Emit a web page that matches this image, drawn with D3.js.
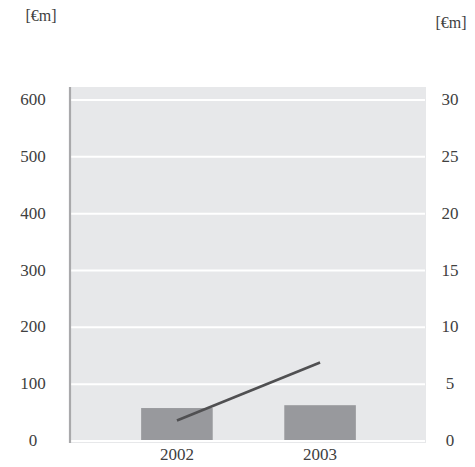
<!DOCTYPE html>
<html>
<head>
<meta charset="utf-8">
<script src="https://cdn.jsdelivr.net/npm/d3@7"></script>
<style>
  html, body { margin: 0; padding: 0; background: #fff; }
  svg { display: block; }
</style>
</head>
<body>
<svg id="chart" width="475" height="467"></svg>
<script>
// ---- data ----
const categories = ["2002", "2003"];
const barValues = [58, 63];        // left axis [€m]
const lineValues = [1.8, 6.9];     // right axis [€m]
const leftTicks = [0, 100, 200, 300, 400, 500, 600];
const rightTicks = [0, 5, 10, 15, 20, 25, 30];
const unitLabel = "[€m]";

// ---- layout ----
const FONT = "'Liberation Serif', 'Times New Roman', Times, serif";
const plot = { left: 71, right: 426, top: 87, bottom: 443 };
const svg = d3.select("#chart");

const x = d3.scaleBand().domain(categories)
  .range([plot.left, plot.right]).paddingInner(0.5).paddingOuter(0.49);
const yL = d3.scaleLinear().domain([0, 600]).range([441, 100]);
const yR = d3.scaleLinear().domain([0, 30]).range([441, 100]);

// panel background
svg.append("rect")
  .attr("x", plot.left).attr("y", plot.top)
  .attr("width", plot.right - plot.left).attr("height", plot.bottom - plot.top)
  .attr("fill", "#e7e8ea");

// gridlines
svg.append("g").selectAll("line").data(leftTicks).join("line")
  .attr("x1", plot.left).attr("x2", plot.right - 1)
  .attr("y1", d => yL(d)).attr("y2", d => yL(d))
  .attr("stroke", "#ffffff").attr("stroke-width", 2);

// left axis line
svg.append("line")
  .attr("x1", 70).attr("x2", 70)
  .attr("y1", plot.top).attr("y2", plot.bottom)
  .attr("stroke", "#a9a9ab").attr("stroke-width", 2.2);

// bars
svg.append("g").selectAll("rect").data(categories).join("rect")
  .attr("x", d => x(d))
  .attr("width", x.bandwidth())
  .attr("y", (d, i) => yL(barValues[i]))
  .attr("height", (d, i) => yL(0) - 1 - yL(barValues[i]))
  .attr("fill", "#98999d");

// line
const line = d3.line()
  .x((d, i) => x(categories[i]) + x.bandwidth() / 2)
  .y(d => yR(d));
svg.append("path").datum(lineValues)
  .attr("d", line)
  .attr("fill", "none")
  .attr("stroke", "#505052")
  .attr("stroke-width", 2.6);

function txt(sel) {
  return sel.attr("font-family", FONT).attr("fill", "#404040");
}

// left tick labels
txt(svg.append("g").selectAll("text").data(leftTicks).join("text"))
  .attr("x", 33).attr("y", d => yL(d) + 5)
  .attr("text-anchor", "middle")
  .attr("font-size", 17)
  .text(d => d);

// right tick labels
txt(svg.append("g").selectAll("text").data(rightTicks).join("text"))
  .attr("x", 450).attr("y", d => yR(d) + 5)
  .attr("text-anchor", "middle")
  .attr("font-size", 17)
  .text(d => d);

// category labels
txt(svg.append("g").selectAll("text").data(categories).join("text"))
  .attr("x", d => x(d) + x.bandwidth() / 2)
  .attr("y", 460)
  .attr("text-anchor", "middle")
  .attr("font-size", 17)
  .text(d => d);

// unit labels
txt(svg.append("text")).attr("x", 41).attr("y", 21)
  .attr("text-anchor", "middle").attr("font-size", 16).text(unitLabel);
txt(svg.append("text")).attr("x", 451).attr("y", 28)
  .attr("text-anchor", "middle").attr("font-size", 16).text(unitLabel);
</script>
</body>
</html>
